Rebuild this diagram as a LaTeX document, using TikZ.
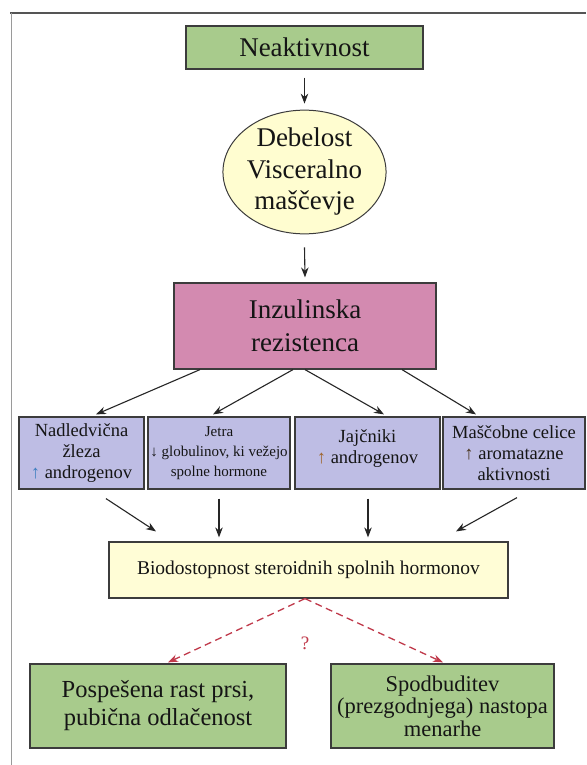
\documentclass[tikz,border=0pt]{standalone}
\usepackage{fontspec}
\setmainfont{Liberation Serif}
\usetikzlibrary{shapes.geometric,arrows.meta}
\definecolor{grn}{HTML}{A8CB8C}
\definecolor{ylw}{HTML}{FFFDD0}
\definecolor{pnk}{HTML}{D38AB0}
\definecolor{lav}{HTML}{BEBDE4}
\definecolor{bioc}{HTML}{FFFDD6}
\definecolor{bordc}{HTML}{3C3C3C}
\definecolor{txtc}{HTML}{151515}
\definecolor{redc}{HTML}{C0394A}
\definecolor{arrb}{HTML}{3F7FC0}
\definecolor{arrbr}{HTML}{A0662E}
\definecolor{arrd}{HTML}{4A3520}
\definecolor{frametop}{HTML}{555555}
\definecolor{frameleft}{HTML}{9A9A9A}
\begin{document}
\begin{tikzpicture}[x=1pt,y=-1pt,
  box/.style={draw=bordc, line width=1.2pt, inner sep=0pt, align=center, text=txtc},
  arr/.style={draw=black!85, line width=1.1pt, -{Stealth[length=10pt,width=7.5pt]}},
  darr/.style={draw=redc, line width=1.3pt, dash pattern=on 7pt off 4.5pt, -{Stealth[length=10pt,width=7.5pt]}},
]
\useasboundingbox (0,0) rectangle (586,765);
\fill[white] (0,0) rectangle (586,765);
\draw[line width=1.5pt, draw=frametop] (10,13) -- (586,13);
\draw[line width=1pt, draw=frameleft] (11,13) -- (11,765);

\node[box, fill=grn, minimum width=237pt, minimum height=43pt, font=\fontsize{27}{30}\selectfont] (neak) at (304.5,47.5) {Neaktivnost};
\node[box, ellipse, fill=ylw, line width=1pt, minimum width=157pt, minimum height=120pt, font=\fontsize{27}{31.5}\selectfont] (ell) at (304.5,172) {Debelost\\Visceralno\\maščevje};
\node[box, fill=pnk, minimum width=262pt, minimum height=86pt, font=\fontsize{27}{33}\selectfont] (inz) at (305,326) {Inzulinska\\rezistenca};

\node[box, fill=lav, minimum width=125pt, minimum height=72pt, font=\fontsize{18.5}{21}\selectfont] (b1) at (81.5,453) {Nadledvična\\žleza\\{\color{arrb}↑} androgenov};
\node[box, fill=lav, minimum width=142pt, minimum height=72pt, font=\fontsize{15}{20}\selectfont] (b2) at (219,453) {Jetra\\↓ globulinov, ki vežejo\\spolne hormone};
\node[box, fill=lav, minimum width=145pt, minimum height=72pt] (b3) at (367.5,453) {};
\node[text=txtc, align=center, inner sep=0pt, font=\fontsize{18.5}{21}\selectfont] (b3t) at (367.5,448.5) {Jajčniki\\{\color{arrbr}↑} androgenov};
\node[box, fill=lav, minimum width=142pt, minimum height=72pt, font=\fontsize{18.5}{21}\selectfont] (b4) at (514,453) {Maščobne celice\\{\color{arrd}↑} aromatazne\\aktivnosti};

\node[box, fill=bioc, minimum width=399pt, minimum height=56pt, font=\fontsize{19.5}{22}\selectfont] (bio) at (308.5,570) {Biodostopnost steroidnih spolnih hormonov};

\node[box, fill=grn, minimum width=256pt, minimum height=84pt, font=\fontsize{24.5}{28}\selectfont] (bl) at (158,706) {Pospešena rast prsi,\\pubična odlačenost};
\node[box, fill=grn, minimum width=223pt, minimum height=84pt, font=\fontsize{22.5}{22.5}\selectfont] (br) at (442.5,706) {Spodbuditev\\(prezgodnjega) nastopa\\menarhe};

\node[text=redc, inner sep=0pt, font=\fontsize{19}{19}\selectfont] (q) at (305,643) {?};

\draw[arr] ([yshift=-8pt]neak.south) -- ([yshift=6pt]ell.north);
\draw[arr] ([yshift=-13pt]ell.south) -- ([yshift=5pt]inz.north);

\draw[arr] ([xshift=-105pt]inz.south) -- ([xshift=14.5pt,yshift=2pt]b1.north);
\draw[arr] ([xshift=-12pt]inz.south) -- ([xshift=-6pt,yshift=2pt]b2.north);
\draw[arr] (inz.south) -- ([xshift=16.5pt,yshift=2pt]b3.north);
\draw[arr] ([xshift=97pt]inz.south) -- ([xshift=-38pt,yshift=2pt]b4.north);

\draw[arr] ([xshift=24.5pt,yshift=-9pt]b1.south) -- ([xshift=-152.5pt,yshift=10pt]bio.north);
\draw[arr] ([yshift=-9pt]b2.south) -- ([xshift=-89.5pt,yshift=4pt]bio.north);
\draw[arr] ([xshift=0.5pt,yshift=-9pt]b3.south) -- ([xshift=59.5pt,yshift=4pt]bio.north);
\draw[arr] ([xshift=3pt,yshift=-8pt]b4.south) -- ([xshift=147.5pt,yshift=10pt]bio.north);

\draw[darr] ([xshift=-3.5pt]bio.south) -- ([xshift=10pt,yshift=1pt]bl.north);
\draw[darr] ([xshift=-3.5pt]bio.south) -- ([xshift=0.5pt,yshift=1pt]br.north);
\end{tikzpicture}
\end{document}
